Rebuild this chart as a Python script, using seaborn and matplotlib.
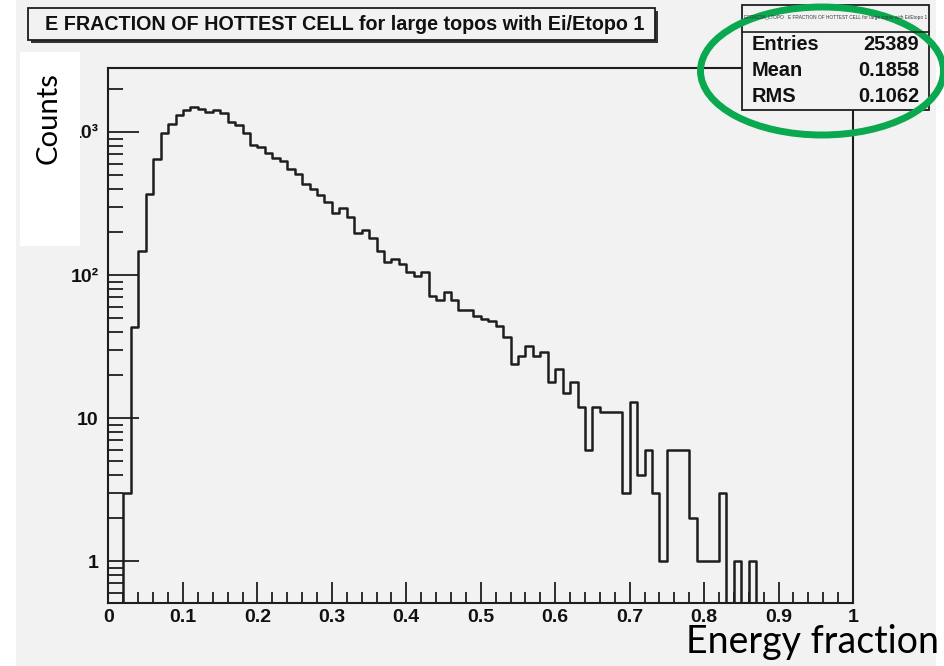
import matplotlib
matplotlib.use("Agg")
import matplotlib.pyplot as plt
import seaborn as sns
import numpy as np
import pandas as pd
from matplotlib.patches import Rectangle, Ellipse
from matplotlib.ticker import FixedLocator, MultipleLocator, LogLocator, NullFormatter

# ---------------- data ----------------
x_range = (0.0, 1.0)
n_bins = 100
counts = [0, 0, 3, 43, 147, 370, 643, 984, 1143, 1307,
          1416, 1486, 1456, 1380, 1416, 1349, 1181, 1120, 978, 811,
          789, 713, 661, 627, 553, 508, 434, 401, 360, 324,
          271, 292, 256, 196, 207, 181, 147, 123, 130, 119,
          105, 99, 105, 71, 67, 76, 67, 57, 57, 52,
          49, 48, 44, 37, 24, 27, 32, 27, 29, 18,
          22, 15, 18, 12, 6, 12, 11, 11, 11, 3,
          13, 4, 6, 3, 1, 6, 6, 6, 2, 1,
          1, 1, 3, 0, 1, 0, 1, 0, 0, 0,
          0, 0, 0, 0, 0, 0, 0, 0, 0, 0]
x_ticks = [0, 0.1, 0.2, 0.3, 0.4, 0.5, 0.6, 0.7, 0.8, 0.9, 1]
x_tick_labels = ["0", "0.1", "0.2", "0.3", "0.4", "0.5", "0.6", "0.7", "0.8", "0.9", "1"]
y_ticks = [1, 10, 100, 1000]
y_tick_labels = ["1", "10", "10²", "10³"]
y_limits = (0.51, 2800)
title_text = "E FRACTION OF HOTTEST CELL for large topos with Ei/Etopo 1"
stats_header = "EFRAC3A_LTOPO   E FRACTION OF HOTTEST CELL for large topos with Ei/Etopo 1"
stats_names = ["Entries", "Mean", "RMS"]
stats_values = ["25389", "0.1858", "0.1062"]
x_label = "Energy fraction"
y_label = "Counts"

# ---------------- style ----------------
W, H = 945, 666
GRAY = "#f2f2f2"
INK = "#1e1e1e"
GREEN = "#0aa84f"
BOLD_FONT = ["Liberation Sans Narrow", "Liberation Sans", "DejaVu Sans"]
HEAD_FONT = ["Liberation Sans", "DejaVu Sans"]
SLIDE_FONT = ["Lato", "DejaVu Sans"]

sns.set_theme(style="white")
plt.rcParams["font.family"] = HEAD_FONT

fig = plt.figure(figsize=(W / 100, H / 100), dpi=100)
fig.patch.set_facecolor("white")

# background canvas
bg = fig.add_axes([0, 0, 1, 1], zorder=0)
bg.set_xlim(0, W)
bg.set_ylim(H, 0)
bg.axis("off")
bg.add_patch(Rectangle((16, 0), 920, H, facecolor=GRAY, edgecolor="none"))

# main plotting axes
L, R, T, B = 108.5, 853, 68, 603
ax = fig.add_axes([L / W, 1 - B / H, (R - L) / W, (B - T) / H], zorder=1)
ax.set_facecolor(GRAY)

edges = np.linspace(x_range[0], x_range[1], n_bins + 1)
centers = 0.5 * (edges[:-1] + edges[1:])
df = pd.DataFrame({"x": centers, "w": counts})
sns.histplot(data=df, x="x", weights="w", bins=n_bins, binrange=x_range,
             element="step", fill=False, color=INK, linewidth=1.8, ax=ax)
ax.set_yscale("log", nonpositive="clip")
ax.set_xlim(*x_range)
ax.set_ylim(*y_limits)
ax.set_xlabel("")
ax.set_ylabel("")

for s in ax.spines.values():
    s.set_visible(True)
    s.set_color(INK)
    s.set_linewidth(1.5)

ax.xaxis.set_major_locator(FixedLocator(x_ticks))
ax.xaxis.set_minor_locator(MultipleLocator(0.02))
ax.set_xticklabels(x_tick_labels)
ax.yaxis.set_major_locator(FixedLocator(y_ticks))
ax.yaxis.set_minor_locator(LogLocator(base=10, subs=np.arange(2, 10)))
ax.yaxis.set_minor_formatter(NullFormatter())
ax.set_yticklabels(y_tick_labels)

ax.tick_params(axis="x", which="major", direction="in", length=15, width=1.3,
               color=INK, bottom=True, top=False, pad=4)
ax.tick_params(axis="x", which="minor", direction="in", length=8, width=1.3,
               color=INK, bottom=True, top=False)
ax.tick_params(axis="y", which="major", direction="in", length=22, width=1.3,
               color=INK, left=True, right=False, pad=7)
ax.tick_params(axis="y", which="minor", direction="in", length=11, width=1.3,
               color=INK, left=True, right=False)
for lab in ax.get_xticklabels() + ax.get_yticklabels():
    lab.set_fontfamily(BOLD_FONT)
    lab.set_fontweight("bold")
    lab.set_fontsize(14)
    lab.set_color("#111111")

# overlay for annotations in pixel coordinates
ov = fig.add_axes([0, 0, 1, 1], zorder=5)
ov.set_xlim(0, W)
ov.set_ylim(H, 0)
ov.axis("off")
ov.patch.set_alpha(0)

fig.canvas.draw()
renderer = fig.canvas.get_renderer()


def fit_width(t, target, use_height=False):
    fig.canvas.draw()
    bb = t.get_window_extent(renderer)
    w = bb.height if use_height else bb.width
    t.set_fontsize(t.get_fontsize() * target / w)


# title box with shadow
ov.add_patch(Rectangle((31, 11), 627, 32, facecolor="#333333", edgecolor="none"))
ov.add_patch(Rectangle((28, 8), 627, 32, facecolor=GRAY, edgecolor=INK, linewidth=1.3))
tt = ov.text(345, 25, title_text, ha="center", va="center", fontweight="bold",
             family=HEAD_FONT, fontsize=14, color="#111111")
fit_width(tt, 600)

# stats box
ov.add_patch(Rectangle((742, 5), 187, 105, facecolor=GRAY, edgecolor=INK, linewidth=1.3))
ov.plot([742, 929], [31.5, 31.5], color=INK, linewidth=1.2)
ht = ov.text(835.5, 18, stats_header, ha="center", va="center", family=HEAD_FONT,
             fontsize=4, color="#333333")
fit_width(ht, 178)
row_y = [45, 71, 97]
for name, val, yy in zip(stats_names, stats_values, row_y):
    ov.text(752, yy, name, ha="left", va="center", fontweight="bold",
            family=HEAD_FONT, fontsize=14, color="#111111")
    ov.text(919, yy, val, ha="right", va="center", fontweight="bold",
            family=HEAD_FONT, fontsize=14, color="#111111")
fig.canvas.draw()
# scale stats fonts so "Entries" is ~68 px wide
entries_text = [t for t in ov.texts if t.get_text() == "Entries"][0]
w0 = entries_text.get_window_extent(renderer).width
scale = 68 / w0
for t in ov.texts:
    if t.get_text() in stats_names + stats_values:
        t.set_fontsize(t.get_fontsize() * scale)

# green highlight ellipse
ov.add_patch(Ellipse((822, 71), 243, 128, fill=False, edgecolor=GREEN,
                     linewidth=5, clip_on=False))

# slide-style axis labels
ov.add_patch(Rectangle((20, 52), 60, 194, facecolor="white", edgecolor="none"))
ct = ov.text(49, 118, y_label, rotation=90, ha="center", va="center",
             family=SLIDE_FONT, fontsize=20, color="black")
fit_width(ct, 92, use_height=True)
et = ov.text(939, 660, x_label, ha="right", va="bottom",
             family=SLIDE_FONT, fontsize=26, color="black")
fit_width(et, 252)

fig.savefig("out.png", dpi=100, facecolor=fig.get_facecolor())
